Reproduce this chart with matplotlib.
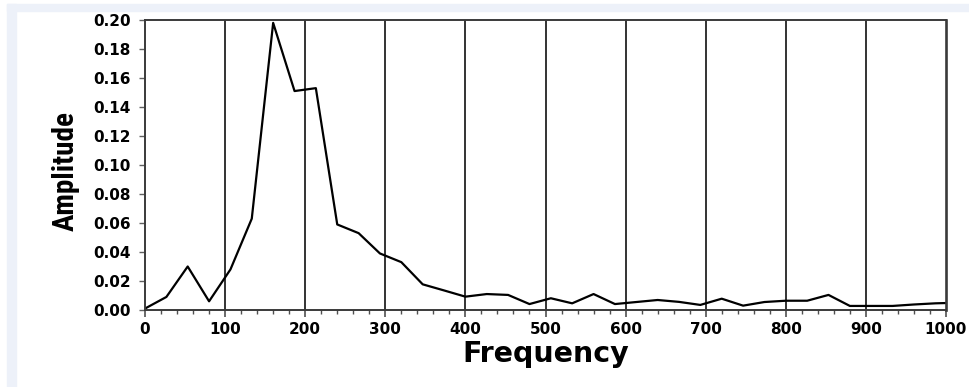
import matplotlib
matplotlib.use("Agg")
import matplotlib.pyplot as plt
from matplotlib.patches import Rectangle
from matplotlib.ticker import MultipleLocator
from matplotlib import font_manager

# spectrum values
freq = [0, 26.7, 53.3, 80, 106.7, 133.3, 160, 186.7, 213.3, 240, 266.7, 293.3,
        320, 346.7, 373.3, 400, 426.7, 453.3, 480, 506.7, 533.3, 560, 586.7,
        613.3, 640, 666.7, 693.3, 720, 746.7, 773.3, 800, 826.7, 853.3, 880,
        906.7, 933.3, 960, 986.7, 1000]
amp = [0.001, 0.009, 0.030, 0.006, 0.028, 0.063, 0.198, 0.151, 0.153, 0.059,
       0.053, 0.039, 0.033, 0.0177, 0.0135, 0.0092, 0.0110, 0.0104, 0.0041,
       0.0081, 0.0046, 0.0110, 0.0041, 0.0055, 0.0069, 0.0056, 0.0035, 0.0078,
       0.0030, 0.0055, 0.0064, 0.0064, 0.0104, 0.0028, 0.0028, 0.0028, 0.0038,
       0.0046, 0.0048]
xticks = list(range(0, 1001, 100))
yticks = [i / 100 for i in range(0, 21, 2)]

# narrow bold face for the y label if there is one
names = {f.name for f in font_manager.fontManager.ttflist}
narrow = [n for n in ["Liberation Sans Narrow", "Roboto Condensed", "DejaVu Sans"] if n in names]

fig = plt.figure(figsize=(9.69, 3.87), dpi=100)
W, H = 969, 387
band = "#edf1f9"
# light frame band along top and left edge
fig.patches.append(Rectangle((7 / W, 1 - 11 / H), 1 - 7 / W, 7 / H,
                             transform=fig.transFigure, color=band, zorder=0))
fig.patches.append(Rectangle((7 / W, 0), 9 / W, 1 - 4 / H,
                             transform=fig.transFigure, color=band, zorder=0))

ax = fig.add_axes([145 / W, 1 - 310 / H, 801 / W, 290 / H])
ax.plot(freq, amp, color="black", lw=1.6)
ax.set_xlim(0, 1000)
ax.set_ylim(0, 0.20)
ax.set_xticks(xticks)
ax.set_yticks(yticks)
ax.set_yticklabels([f"{v:.2f}" for v in yticks])
ax.xaxis.set_minor_locator(MultipleLocator(20))

for x in xticks[1:-1]:
    ax.axvline(x, color="#333333", lw=1.4, zorder=1)

for s in ax.spines.values():
    s.set_color("#3a3a3a")
    s.set_linewidth(1.4)
ax.spines["right"].set_linewidth(1.9)

ax.tick_params(axis="x", which="major", length=5, width=1.2, color="#505050", pad=4)
ax.tick_params(axis="x", which="minor", length=3, width=1.0, color="#505050")
ax.tick_params(axis="y", length=4, width=1.0, color="#606060", pad=6)
for lab in ax.get_xticklabels() + ax.get_yticklabels():
    lab.set_fontweight("bold")
    lab.set_fontsize(11)
    lab.set_family("DejaVu Sans")

ax.set_xlabel("Frequency", fontsize=20.5, fontweight="bold",
              family="DejaVu Sans", labelpad=2)
ax.set_ylabel("Amplitude", fontsize=21, fontweight="bold",
              family=narrow, fontstretch="condensed")
ax.yaxis.set_label_coords(-0.081, 0.48)

fig.savefig("out.png", dpi=100)
